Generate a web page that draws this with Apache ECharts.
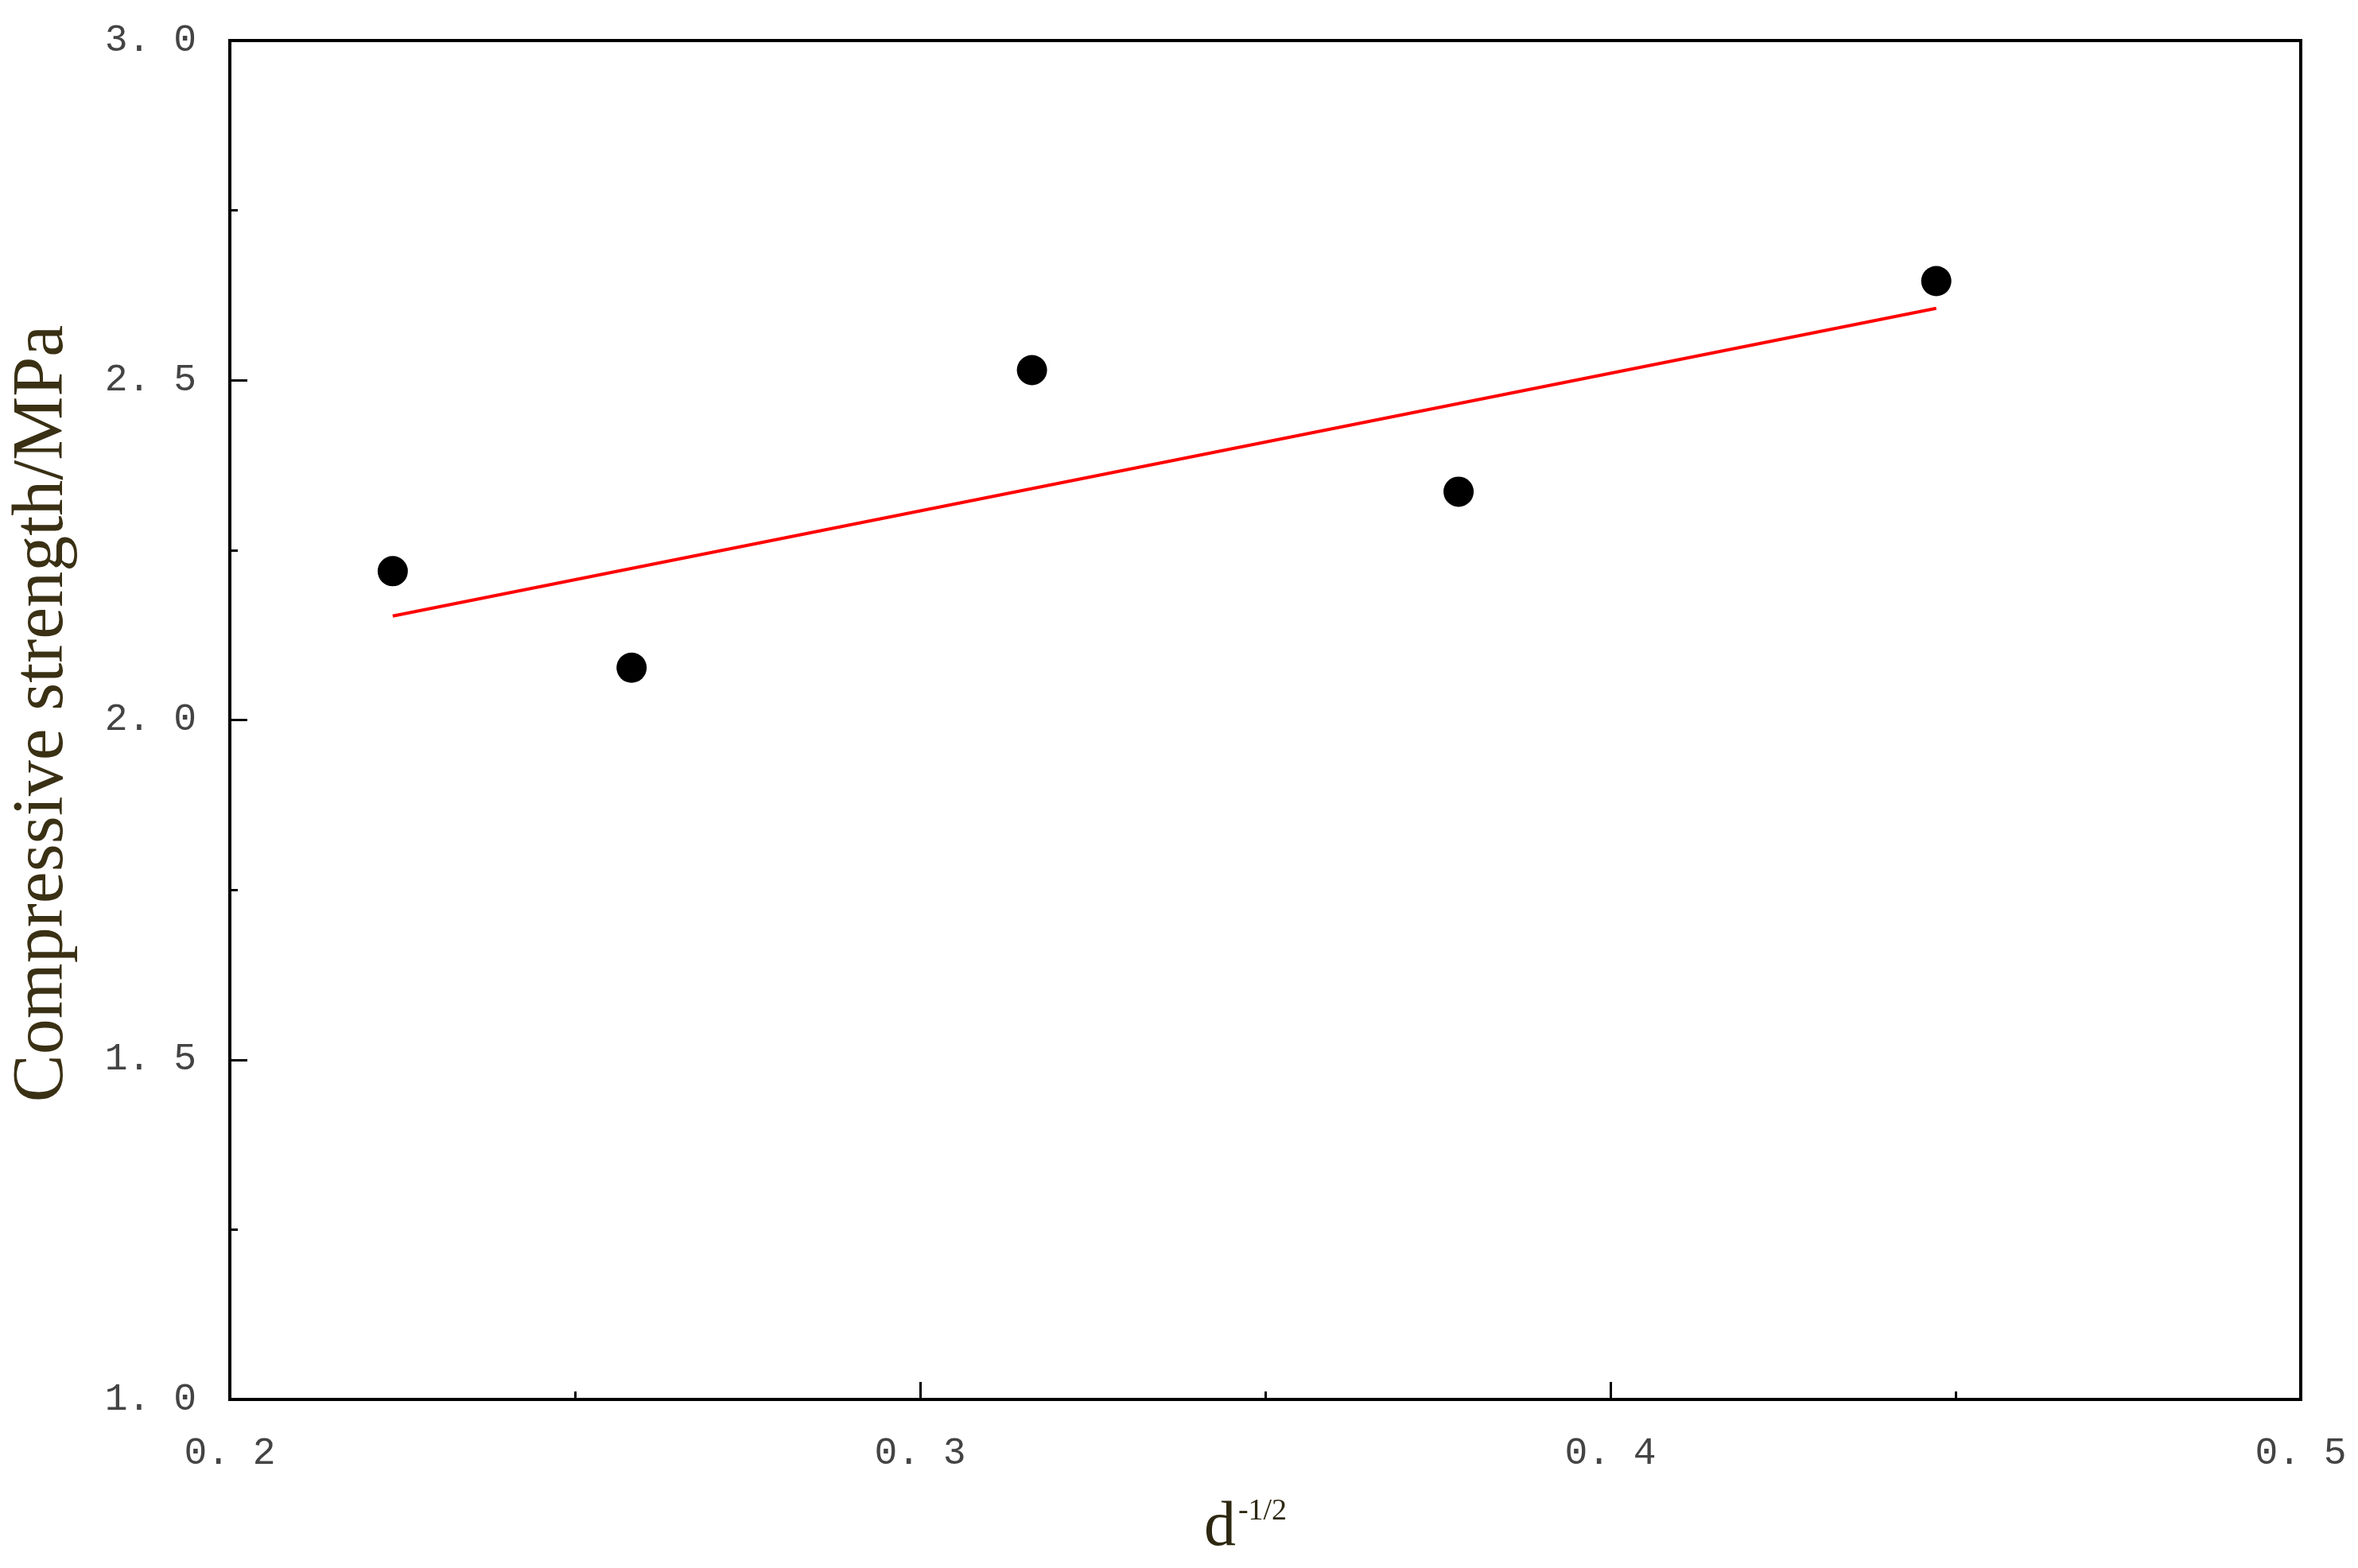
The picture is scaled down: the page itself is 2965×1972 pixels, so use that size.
<!DOCTYPE html>
<html>
<head>
<meta charset="utf-8">
<script src="https://cdn.jsdelivr.net/npm/echarts@6/dist/echarts.min.js"></script>
<style>
  html, body { margin: 0; padding: 0; background: #fff; }
  #chart { width: 2965px; height: 1972px; }
</style>
</head>
<body>
<div id="chart"></div>
<script>
// measured points: d^-1/2 vs compressive strength
var xValues = [0.2236, 0.2582, 0.3162, 0.3780, 0.4472];
var strength = [2.219, 2.077, 2.515, 2.336, 2.646];
// fitted line, read from its two ends
var fitX = [0.2236, 0.4472];
var fitY = [2.153, 2.606];

var pts = xValues.map(function (x, i) { return [x, strength[i]]; });
var fit = fitX.map(function (x, i) { return [x, fitY[i]]; });

var chart = echarts.init(document.getElementById("chart"));
var labelFmt = function (v) { return v.toFixed(1).replace(".", ". "); };
var option = {
  animation: false,
  backgroundColor: "#fff",
  grid: {
    left: 289, right: 72, top: 51, bottom: 212,
    outerBoundsMode: "none",
    show: true, borderColor: "#000", borderWidth: 4
  },
  xAxis: {
    type: "value",
    min: 0.2, max: 0.5, interval: 0.1,
    name: "{a|d}{b|-1/2}",
    nameLocation: "middle",
    nameGap: 122,
    nameTextStyle: {
      padding: [0, 50, 0, 0],
      rich: {
        a: { fontFamily: "Liberation Serif", fontSize: 80, color: "#2e2812" },
        b: { fontFamily: "Liberation Serif", fontSize: 38, color: "#2e2812", verticalAlign: "top", padding: [0, 0, 28, 3] }
      }
    },
    axisLine: { lineStyle: { color: "#000", width: 4 } },
    axisTick: { inside: true, length: 22, lineStyle: { color: "#000", width: 3 } },
    minorTick: { show: true, splitNumber: 2, length: 10, lineStyle: { color: "#000", width: 3 } },
    splitLine: { show: false },
    axisLabel: {
      formatter: labelFmt, margin: 44,
      fontFamily: "Liberation Mono", fontSize: 48, color: "#444"
    }
  },
  yAxis: {
    type: "value",
    min: 1, max: 3, interval: 0.5,
    name: "Compressive strength/MPa",
    nameLocation: "middle",
    nameGap: 190,
    nameTextStyle: { fontFamily: "Liberation Serif", fontSize: 90, color: "#3a3014", padding: [0, 0, 0, 16] },
    axisLine: { lineStyle: { color: "#000", width: 4 } },
    axisTick: { inside: true, length: 22, lineStyle: { color: "#000", width: 3 } },
    minorTick: { show: true, splitNumber: 2, length: 10, lineStyle: { color: "#000", width: 3 } },
    splitLine: { show: false },
    axisLabel: {
      formatter: labelFmt, margin: 42,
      fontFamily: "Liberation Mono", fontSize: 48, color: "#444"
    }
  },
  series: [
    {
      type: "line",
      data: fit,
      showSymbol: false,
      lineStyle: { color: "#ff0000", width: 4 },
      z: 2
    },
    {
      type: "scatter",
      data: pts,
      symbol: "circle",
      symbolSize: 38,
      itemStyle: { color: "#000", opacity: 1 },
      z: 3
    }
  ]
};
chart.setOption(option);
</script>
</body>
</html>
